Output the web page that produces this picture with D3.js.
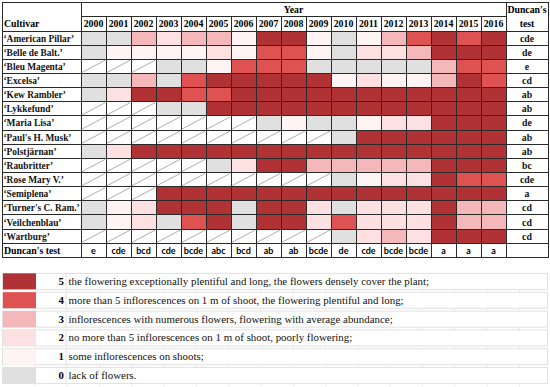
<!DOCTYPE html>
<html>
<head>
<meta charset="utf-8">
<script src="https://cdn.jsdelivr.net/npm/d3@7"></script>
<style>
  body { margin: 0; background: #fff; }
  svg { display: block; }
</style>
</head>
<body>
<svg width="550" height="387"></svg>
<script>
// data: -1 = no observation (hatched cell), 0..5 = flowering score
const years = [2000, 2001, 2002, 2003, 2004, 2005, 2006, 2007, 2008, 2009, 2010, 2011, 2012, 2013, 2014, 2015, 2016];
const cultivars = ["‘American Pillar’", "‘Belle de Balt.’", "‘Bleu Magenta’", "‘Excelsa’", "‘Kew Rambler’", "‘Lykkefund’", "‘Maria Lisa’", "‘Paul's H. Musk’", "‘Polstjärnan’", "‘Raubritter’", "‘Rose Mary V.’", "‘Semiplena’", "‘Turner's C. Ram.’", "‘Veilchenblau’", "‘Wartburg’"];
const scores = [
  [0, 0, 3, 2, 3, 3, 1, 5, 5, 1, 0, 1, 3, 4, 5, 4, 5],
  [0, 1, 1, 1, 1, 2, 1, 4, 4, 1, 0, 2, 2, 3, 5, 5, 5],
  [-1, -1, -1, 0, 0, 1, 4, 4, 4, 0, 0, 0, 0, 0, 3, 4, 4],
  [0, 0, 3, 0, 4, 5, 5, 5, 5, 5, 1, 2, 1, 1, 3, 5, 4],
  [0, 2, 5, 5, 4, 4, 5, 5, 5, 5, 5, 5, 5, 5, 5, 5, 5],
  [-1, -1, -1, 0, 0, 5, 5, 5, 5, 5, 5, 5, 5, 5, 5, 5, 5],
  [-1, -1, -1, -1, -1, -1, -1, 0, 1, 0, 0, 1, 2, 2, 5, 5, 5],
  [-1, -1, -1, -1, -1, -1, -1, -1, -1, -1, 0, 5, 5, 5, 5, 5, 5],
  [0, 2, 5, 5, 5, 5, 5, 5, 5, 5, 5, 5, 5, 5, 5, 5, 5],
  [-1, -1, -1, -1, -1, 0, 2, 5, 5, 3, 3, 3, 3, 3, 5, 5, 5],
  [-1, -1, -1, -1, -1, -1, -1, -1, -1, -1, 0, 1, 2, 2, 5, 4, 4],
  [-1, -1, -1, 5, 5, 5, 5, 5, 5, 5, 5, 5, 5, 5, 5, 5, 5],
  [0, 1, 2, 5, 5, 5, 0, 5, 5, 2, 0, 2, 2, 2, 5, 3, 3],
  [0, 1, 2, 0, 4, 5, 0, 5, 5, 2, 4, 2, 2, 2, 5, 3, 3],
  [-1, -1, -1, -1, -1, -1, -1, -1, -1, -1, 0, 2, 3, 2, 5, 5, 5]
];
const duncanCultivar = ["cde", "de", "e", "cd", "ab", "ab", "de", "ab", "ab", "bc", "cde", "a", "cd", "cd", "cd"];
const duncanYear = ["e", "cde", "bcd", "cde", "bcde", "abc", "bcd", "ab", "ab", "bcde", "de", "cde", "bcde", "bcde", "a", "a", "a"];

const levels = [5, 4, 3, 2, 1, 0];
const levelText = [
  "the flowering exceptionally plentiful and long, the flowers densely cover the plant;",
  "more than 5 inflorescences on 1 m of shoot, the flowering plentiful and long;",
  "inflorescences with numerous flowers, flowering with average abundance;",
  "no more than 5 inflorescences on 1 m of shoot, poorly flowering;",
  "some inflorescences on shoots;",
  "lack of flowers."
];
const levelColors = ["#e0e0e0", "#fff4f4", "#fde1e2", "#f4b8ba", "#de5252", "#b03234"];

const svg = d3.select("svg");
const serif = "'Liberation Serif', 'Times New Roman', serif";
const sans = "Lato, 'Liberation Sans', sans-serif";
const lineCol = "#2a2a2a";

const color = d3.scaleOrdinal().domain([0, 1, 2, 3, 4, 5]).range(levelColors);

// table geometry
const tLeft = 2, colX = 81, colEnd = 506, tRight = 548;
const tTop = 2, headY = 16, rowsTop = 31, rowsEnd = 243.3, tBottom = 257.7;

const x = d3.scaleBand().domain(years).range([colX, colEnd]);
const y = d3.scaleBand().domain(cultivars).range([rowsTop, rowsEnd]);
const rowH = y.bandwidth();

const table = svg.append("g");

// cells
const rows = table.selectAll("g.row")
  .data(cultivars.map((c, i) => ({ name: c, vals: scores[i], duncan: duncanCultivar[i] })))
  .join("g").attr("class", "row");

rows.selectAll("rect.cell")
  .data(d => d.vals.map((v, j) => ({ v, year: years[j], name: d.name })))
  .join("rect").attr("class", "cell")
  .attr("x", d => x(d.year))
  .attr("y", d => y(d.name))
  .attr("width", x.bandwidth())
  .attr("height", rowH)
  .attr("fill", d => d.v < 0 ? "#fff" : color(d.v));

rows.selectAll("line.hatch")
  .data(d => d.vals.map((v, j) => ({ v, year: years[j], name: d.name })).filter(d => d.v < 0))
  .join("line").attr("class", "hatch")
  .attr("x1", d => x(d.year) + 1)
  .attr("y1", d => y(d.name) + rowH - 1)
  .attr("x2", d => x(d.year) + x.bandwidth() - 1)
  .attr("y2", d => y(d.name) + 1)
  .attr("stroke", "#9a9a9a")
  .attr("stroke-width", 0.8);

rows.append("text")
  .attr("x", tLeft + 1.5)
  .attr("y", d => y(d.name) + rowH / 2 + 3.5)
  .attr("font-family", serif).attr("font-weight", "bold").attr("font-size", 9.4)
  .attr("fill", "#111")
  .text(d => d.name);

rows.append("text")
  .attr("x", (colEnd + tRight) / 2)
  .attr("y", d => y(d.name) + rowH / 2 + 3.5)
  .attr("text-anchor", "middle")
  .attr("font-family", serif).attr("font-weight", "bold").attr("font-size", 9.8)
  .attr("fill", "#111")
  .text(d => d.duncan);

// bottom Duncan row
table.append("text")
  .attr("x", tLeft + 2).attr("y", rowsEnd + rowH / 2 + 3.5)
  .attr("font-family", serif).attr("font-weight", "bold").attr("font-size", 9.8)
  .text("Duncan's test");

table.selectAll("text.dy")
  .data(years)
  .join("text").attr("class", "dy")
  .attr("x", d => x(d) + x.bandwidth() / 2)
  .attr("y", rowsEnd + rowH / 2 + 3.5)
  .attr("text-anchor", "middle")
  .attr("font-family", sans).attr("font-weight", "bold").attr("font-size", 9)
  .text((d, i) => duncanYear[i]);

// header
table.append("text")
  .attr("x", (colX + colEnd) / 2).attr("y", (tTop + headY) / 2 + 3.5)
  .attr("text-anchor", "middle")
  .attr("font-family", serif).attr("font-weight", "bold").attr("font-size", 9.8)
  .text("Year");
table.append("text")
  .attr("x", tLeft + 2).attr("y", (headY + rowsTop) / 2 + 3.5)
  .attr("font-family", serif).attr("font-weight", "bold").attr("font-size", 9.8)
  .text("Cultivar");
table.append("text")
  .attr("x", (colEnd + tRight) / 2).attr("y", (tTop + headY) / 2 + 3.5)
  .attr("text-anchor", "middle")
  .attr("font-family", serif).attr("font-weight", "bold").attr("font-size", 9.8)
  .text("Duncan's");
table.append("text")
  .attr("x", (colEnd + tRight) / 2).attr("y", (headY + rowsTop) / 2 + 3.5)
  .attr("text-anchor", "middle")
  .attr("font-family", serif).attr("font-weight", "bold").attr("font-size", 9.8)
  .text("test");
table.selectAll("text.yr")
  .data(years)
  .join("text").attr("class", "yr")
  .attr("x", d => x(d) + x.bandwidth() / 2)
  .attr("y", (headY + rowsTop) / 2 + 3.5)
  .attr("text-anchor", "middle")
  .attr("font-family", serif).attr("font-weight", "bold").attr("font-size", 9.8)
  .text(d => d);

// grid lines
const grid = table.append("g").attr("stroke", lineCol).attr("stroke-width", 1).attr("shape-rendering", "crispEdges");
const hLines = [rowsTop].concat(cultivars.map(c => y(c) + rowH), [tBottom]);
grid.selectAll("line.h")
  .data(hLines)
  .join("line").attr("class", "h")
  .attr("x1", tLeft).attr("x2", tRight)
  .attr("y1", d => d).attr("y2", d => d);
grid.append("line").attr("x1", colX).attr("x2", colEnd).attr("y1", headY).attr("y2", headY);
grid.append("line").attr("x1", tLeft).attr("x2", tRight).attr("y1", tTop).attr("y2", tTop);
const vLines = [tLeft, colX].concat(years.map(yr => x(yr) + x.bandwidth()), [tRight]);
grid.selectAll("line.v")
  .data(vLines)
  .join("line").attr("class", "v")
  .attr("x1", d => d).attr("x2", d => d)
  .attr("y1", (d, i) => (i === 0 || i === 1 || i >= vLines.length - 2) ? tTop : headY)
  .attr("y2", tBottom);

// legend
const ly = d3.scaleBand().domain(levels).range([272, 385]).paddingInner(0.15).paddingOuter(0.07);
const lg = svg.append("g");
const lrows = lg.selectAll("g")
  .data(levels.map((l, i) => ({ l, text: levelText[i] })))
  .join("g");

lrows.append("rect")
  .attr("x", tLeft + 0.5).attr("y", d => ly(d.l))
  .attr("width", tRight - tLeft - 1).attr("height", ly.bandwidth())
  .attr("fill", "#fff").attr("stroke", "#d9d9d9").attr("stroke-width", 0.8);
lrows.append("rect")
  .attr("x", tLeft + 1).attr("y", d => ly(d.l))
  .attr("width", 33).attr("height", ly.bandwidth())
  .attr("fill", d => color(d.l));
lrows.append("line")
  .attr("x1", 66).attr("x2", 66)
  .attr("y1", d => ly(d.l)).attr("y2", d => ly(d.l) + ly.bandwidth())
  .attr("stroke", "#d9d9d9").attr("stroke-width", 0.8);
lrows.append("text")
  .attr("x", 64).attr("y", d => ly(d.l) + ly.bandwidth() / 2 + 3.5)
  .attr("text-anchor", "end")
  .attr("font-family", serif).attr("font-weight", "bold").attr("font-size", 10.8)
  .text(d => d.l);
lrows.append("text")
  .attr("x", 68.5).attr("y", d => ly(d.l) + ly.bandwidth() / 2 + 3.5)
  .attr("font-family", serif).attr("font-size", 10.9)
  .attr("fill", "#111")
  .text(d => d.text);

// faint column ticks between legend rows
const tickXs = d3.range(35, tRight, 32.3);
lrows.selectAll("line.tk")
  .data(d => tickXs.map(tx => ({ tx, l: d.l })))
  .join("line").attr("class", "tk")
  .attr("x1", d => d.tx).attr("x2", d => d.tx)
  .attr("y1", d => ly(d.l) + ly.bandwidth()).attr("y2", d => ly(d.l) + ly.bandwidth() + 2.5)
  .attr("stroke", "#e2e2e2").attr("stroke-width", 0.8);
</script>
</body>
</html>
